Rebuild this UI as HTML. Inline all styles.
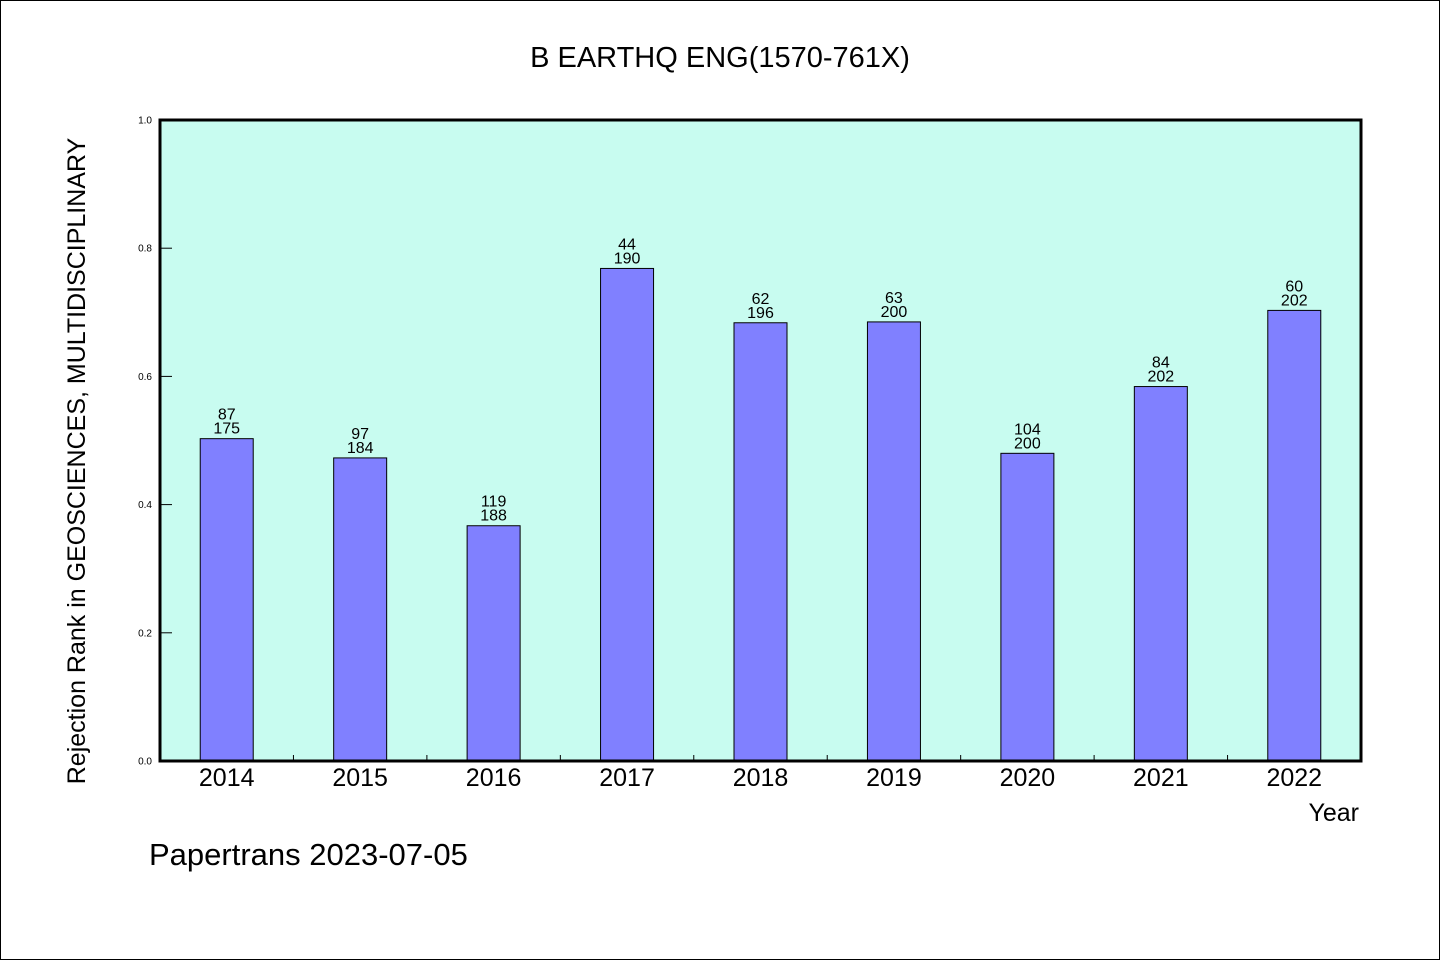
<!DOCTYPE html>
<html><head><meta charset="utf-8">
<style>
html,body{margin:0;padding:0;background:#fff;}
#wrap{width:1438px;height:958px;border:1px solid #000;position:relative;overflow:hidden;}
svg text{font-family:"WenQuanYi Zen Hei","Liberation Sans",sans-serif;}
</style></head>
<body>
<div id="wrap">
<svg id="chart" width="1438" height="958"></svg>
</div>
<script>
const years = ["2014","2015","2016","2017","2018","2019","2020","2021","2022"];
const ranks = [87,97,119,44,62,63,104,84,60];
const totals = [175,184,188,190,196,200,200,202,202];
const yTicks = [0.0,0.2,0.4,0.6,0.8,1.0];

const NS="http://www.w3.org/2000/svg";
const svg=document.getElementById('chart');
const L=159,R=1360,T=119,B=760;
const xBand=(R-L)/years.length;
const xC=i=>L+xBand*(i+0.5);
const yS=v=>B-(B-T)*v;
function mk(tag,attrs,text){const e=document.createElementNS(NS,tag);for(const k in attrs)e.setAttribute(k,attrs[k]);if(text!==undefined)e.textContent=text;svg.appendChild(e);return e;}

let bg=mk('rect',{x:L,y:T,width:R-L,height:B-T,fill:'#c8fcf0'});



let title=mk('text',{x:719,y:66,'font-size':29,'text-anchor':'middle',fill:'#000'},'B EARTHQ ENG(1570-761X)');



yTicks.forEach(v=>{
  const y=yS(v);
  let t=mk('line',{x1:L,x2:L+12,y1:y,y2:y,stroke:'#000','stroke-width':1});
  
  
  let lb=mk('text',{x:L-8,y:y+3.5,'font-size':10,'text-anchor':'end',fill:'#000'},v.toFixed(1));
  
  
});

years.forEach((yr,i)=>{
  const v=1-ranks[i]/totals[i];
  const bw=53;
  let b=mk('rect',{x:xC(i)-bw/2,y:yS(v),width:bw,height:B-yS(v),fill:'#8080ff',stroke:'#000','stroke-width':1});
  
  
  let l1=mk('text',{x:xC(i),y:yS(v)-19,'font-size':16,'text-anchor':'middle',fill:'#000'},String(ranks[i]));
  
  
  let l2=mk('text',{x:xC(i),y:yS(v)-5,'font-size':16,'text-anchor':'middle',fill:'#000'},String(totals[i]));
  
  
  let xl=mk('text',{x:xC(i),y:785,'font-size':25,'text-anchor':'middle',fill:'#000'},yr);
  
  
  if(i>0){
    const xx=L+xBand*i;
    let mt=mk('line',{x1:xx,x2:xx,y1:B,y2:B-6,stroke:'#000','stroke-width':1});
    
    
  }
});

let fr=mk('rect',{x:L,y:T,width:R-L,height:B-T,fill:'none',stroke:'#000','stroke-width':3});



let xt=mk('text',{x:1358,y:820,'font-size':25,'text-anchor':'end',fill:'#000'},'Year');



let yt=mk('text',{x:0,y:0,'font-size':25,'text-anchor':'middle',fill:'#000',transform:'translate(84,460) rotate(-90)'},'Rejection Rank in GEOSCIENCES, MULTIDISCIPLINARY');



let ft=mk('text',{x:148,y:864,'font-size':31,fill:'#000'},'Papertrans 2023-07-05');


</script>
</body></html>
